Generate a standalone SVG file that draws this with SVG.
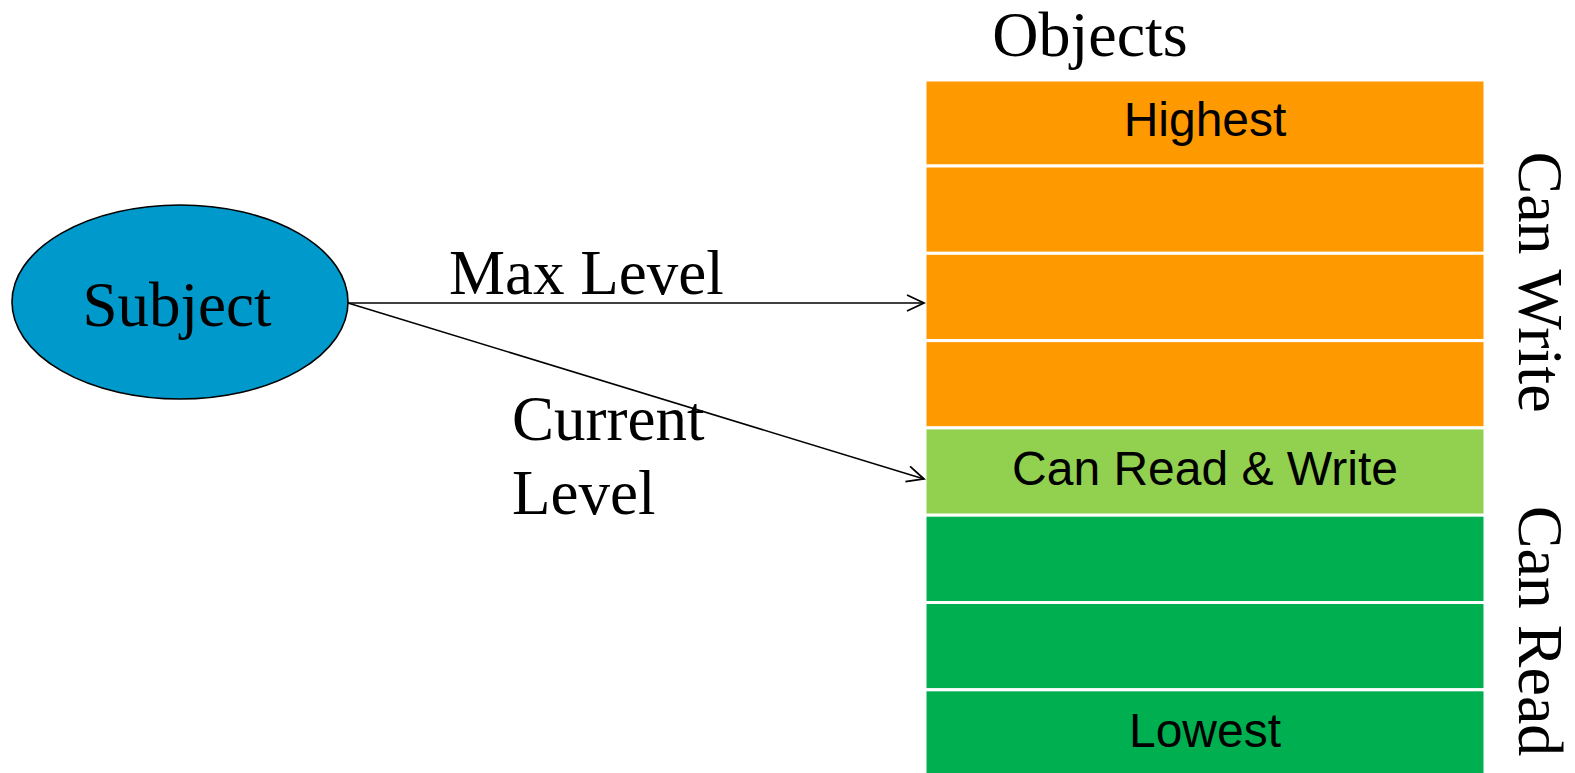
<svg xmlns="http://www.w3.org/2000/svg" width="1575" height="773" viewBox="0 0 1575 773">
  <style>
    .serif { font-family: "Liberation Serif", "Times New Roman", serif; font-size: 63px; fill: #000; }
    .sans { font-family: "Liberation Sans", Arial, sans-serif; font-size: 48px; fill: #000; text-anchor: middle; }
    .row { stroke: #ffffff; stroke-width: 3; }
    .orange { fill: #FF9900; }
    .lime { fill: #92D050; }
    .green { fill: #00B050; }
    .conn { stroke: #000; stroke-width: 1.6; fill: none; marker-end: url(#open); }
  </style>
  <defs>
    <marker id="open" viewBox="0 0 20 20" refX="18" refY="10" markerWidth="20" markerHeight="20" markerUnits="userSpaceOnUse" orient="auto">
      <path d="M1,2 L18,10 L1,18" fill="none" stroke="#000" stroke-width="1.8"/>
    </marker>
  </defs>
  <rect width="1575" height="773" fill="#ffffff"/>

  <!-- level stack -->
  <g id="objects">
    <text class="serif" x="1090" y="56" text-anchor="middle" style="font-size:64px">Objects</text>
    <g id="level-1"><rect class="row orange" x="925" y="80" width="560" height="86"/><text class="sans" x="1205" y="136">Highest</text></g>
    <g id="level-2"><rect class="row orange" x="925" y="166" width="560" height="87.3"/></g>
    <g id="level-3"><rect class="row orange" x="925" y="253.3" width="560" height="87.3"/></g>
    <g id="level-4"><rect class="row orange" x="925" y="340.6" width="560" height="87.3"/></g>
    <g id="level-5"><rect class="row lime" x="925" y="427.9" width="560" height="87.3"/><text class="sans" x="1205" y="485">Can Read &amp; Write</text></g>
    <g id="level-6"><rect class="row green" x="925" y="515.2" width="560" height="87.3"/></g>
    <g id="level-7"><rect class="row green" x="925" y="602.5" width="560" height="87.3"/></g>
    <g id="level-8"><rect class="row green" x="925" y="689.8" width="560" height="95"/><text class="sans" x="1205" y="747">Lowest</text></g>
  </g>

  <!-- side labels -->
  <g id="side-labels">
    <text class="serif" text-anchor="middle" transform="translate(1519,282) rotate(90)" style="font-size:64px">Can Write</text>
    <text class="serif" text-anchor="middle" transform="translate(1519,631) rotate(90)" style="font-size:64px">Can Read</text>
  </g>

  <!-- subject -->
  <g id="subject">
    <ellipse cx="180" cy="302" rx="168" ry="97" fill="#0099CC" stroke="#000" stroke-width="1.6"/>
    <text class="serif" x="177" y="326" text-anchor="middle">Subject</text>
  </g>

  <!-- connectors -->
  <g id="connectors">
    <line class="conn" x1="348" y1="303" x2="924" y2="303"/>
    <line class="conn" x1="348" y1="303" x2="924" y2="479"/>
    <text class="serif" x="449" y="294">Max Level</text>
    <text class="serif" x="512" y="440">Current</text>
    <text class="serif" x="512" y="514">Level</text>
  </g>
</svg>
